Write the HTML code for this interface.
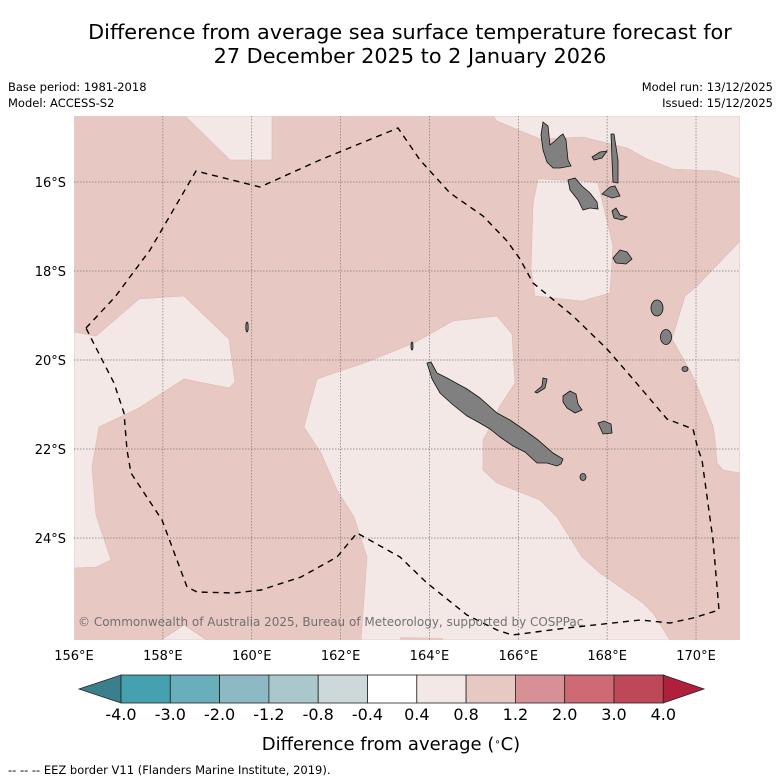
<!DOCTYPE html>
<html><head><meta charset="utf-8"><style>
html,body{margin:0;padding:0;background:#fff;width:781px;height:781px;overflow:hidden}
svg{display:block;font-family:"DejaVu Sans","Liberation Sans",sans-serif}
</style></head><body>
<svg id="chart" width="781" height="781" viewBox="0 0 781 781">
<text x="410" y="39" font-size="20.8" text-anchor="middle">Difference from average sea surface temperature forecast for</text>
<text x="410" y="63" font-size="20.8" text-anchor="middle">27 December 2025 to 2 January 2026</text>
<text x="8" y="91" font-size="11.5">Base period: 1981-2018</text>
<text x="8" y="107" font-size="11.5">Model: ACCESS-S2</text>
<text x="773" y="91" font-size="11.5" text-anchor="end">Model run: 13/12/2025</text>
<text x="773" y="107" font-size="11.5" text-anchor="end">Issued: 15/12/2025</text>
<defs><clipPath id="mapclip"><rect x="74" y="116" width="666" height="524"/></clipPath></defs>
<g clip-path="url(#mapclip)">
<rect x="74" y="116" width="666" height="524" fill="#e8c8c3"/>
<g fill="#f4e8e6" stroke="#dbb9b4" stroke-width="0.6">
<polygon points="185,116 272,116 272,160 230,160"/>
<polygon points="493,116 497,121 540,139 583,137 627,148 647,159 673,169 717,171 740,179 740,116"/>
<polygon points="538,179 583,181 598,183 613,246 610,293 582,301 535,296 531,269 533,204"/>
<polygon points="740,241 697,286 685,296 672,339 693,376 713,426 715,440 717,463 723,470 740,473"/>
<polygon points="74,332 96,336 139,299 184,296 229,339 235,382 229,388 184,379 139,408 99,427 92,467 96,515 111,560 96,567 74,568"/>
<polygon points="414,343 367,362 317,379 304,427 321,453 337,490 354,517 367,557 361,640 670,640 653,613 643,603 600,573 582,557 557,517 540,500 497,483 483,470 483,440 487,433 500,406 515,383 512,334 497,316 453,321"/>
<polygon points="161,640 184,625 207,640"/>
</g>
<polygon fill="#e8c8c3" points="400,637 443,638 443,641 400,641"/>
<g id="grid" stroke="#777" stroke-width="0.7" stroke-dasharray="1.5,1.5"></g>
<g fill="#808080" stroke="#111" stroke-width="0.8">
<polygon points="427,363 431,362 437,373 447,378 467,389 480,398 497,413 510,420 523,429 538,440 553,453 563,459 561,464 557,466 547,463 537,463 525,452 513,446 500,437 490,429 478,422 467,416 452,404 440,393 432,379"/>
<polygon points="543,122 548,126 550,145 556,140 560,136 563,134 566,140 568,160 571,166 560,168 553,168 547,162 543,150 541,135"/>
<polygon points="568,180 575,178 582,186 590,193 597,202 598,209 590,208 583,210 578,200 570,190"/>
<polygon points="611,134 614,134 618,160 618,183 613,182 612,160"/>
<polygon points="592,157 600,152 607,151 602,158 594,160"/>
<polygon points="602,194 610,187 615,186 620,196 612,198"/>
<polygon points="612,211 616,208 620,215 627,217 622,220 614,218"/>
<polygon points="613,258 620,250 627,252 632,259 626,264 616,263"/>
<ellipse cx="657" cy="308" rx="6" ry="8"/>
<ellipse cx="666" cy="337" rx="5.5" ry="7.5"/>
<ellipse cx="685" cy="369" rx="3" ry="2.5"/>
<polygon points="563,396 570,391 576,394 578,404 582,410 575,413 567,408 563,402"/>
<polygon points="598,423 604,421 611,424 612,433 603,434"/>
<ellipse cx="583" cy="477" rx="3" ry="3.5"/>
<polygon points="543,378 547,379 545,388 537,393 535,392 542,386"/>
<ellipse cx="247" cy="327" rx="1.2" ry="5"/>
<ellipse cx="412" cy="346" rx="1" ry="4"/>
</g>
<polyline fill="none" stroke="#000" stroke-width="1.4" stroke-dasharray="6,5"
points="86,328 115,297 150,250 196,171 260,187 320,160 398,128 420,160 450,193 483,216 507,241 520,259 533,283 573,316 607,349 633,379 667,419 693,429 698,449 702,460 713,540 719,610 693,618 670,623 640,620 567,628 512,635 497,630 467,615 427,583 400,557 357,533 337,557 301,577 261,590 234,593 197,592 187,587 162,520 131,473 127,450 124,413 114,383 92,340 86,328"/>
<text x="78" y="626" font-size="12" fill="#666" opacity="0.9">© Commonwealth of Australia 2025, Bureau of Meteorology, supported by COSPPac</text>
</g>
<g id="lonlabels" font-size="13" text-anchor="middle"></g>
<g id="latlabels" font-size="13" text-anchor="end"></g>
<g id="cbar"></g>
<text x="391" y="750" font-size="18" text-anchor="middle">Difference from average (<tspan baseline-shift="super" font-size="10">∘</tspan>C)</text>
<text x="8" y="774" font-size="11.5">--  --  -- EEZ border V11 (Flanders Marine Institute, 2019).</text>
</svg>
<script>
const lonTicks=[156,158,160,162,164,166,168,170];
const latTicks=[16,18,20,22,24];
const cbarBounds=["-4.0","-3.0","-2.0","-1.2","-0.8","-0.4","0.4","0.8","1.2","2.0","3.0","4.0"];
const cbarColors=["#45a0b0","#69aebb","#8cb9c4","#aac8cc","#ccd8d9","#ffffff","#f4e8e6","#e8c8c3","#d79095","#cd6a74","#be4857"];
const lowArrowColor="#3a808c", highArrowColor="#b0203c";
(function(){
const ns="http://www.w3.org/2000/svg";
const lonX=l=>74+(l-156)*44.43;
const latY=l=>182+(l-16)*44.5;
function mk(tag,attrs,parent){const e=document.createElementNS(ns,tag);for(const k in attrs)e.setAttribute(k,attrs[k]);parent.appendChild(e);return e;}
const grid=document.getElementById('grid');
const lonG=document.getElementById('lonlabels');
const latG=document.getElementById('latlabels');
lonTicks.forEach(l=>{
  const x=lonX(l);
  if(l>156){const ln=mk('line',{x1:x,x2:x,y1:116,y2:640},grid);
  
  }
  const t=mk('text',{x:x,y:660},lonG);t.textContent=l+'°E';
  
  
});
latTicks.forEach(l=>{
  const y=latY(l);
  const ln=mk('line',{x1:74,x2:740,y1:y,y2:y},grid);
  
  
  const t=mk('text',{x:66,y:y+5},latG);t.textContent=l+'°S';
  
  
});
const cb=document.getElementById('cbar');
const x0=121,w=49.3,yTop=675,yBot=703,yMid=689;
const la=mk('polygon',{points:`79,${yMid} ${x0},${yTop} ${x0},${yBot}`,fill:lowArrowColor,stroke:'#222','stroke-width':0.8},cb);


cbarColors.forEach((c,i)=>{
  const r=mk('rect',{x:x0+i*w,y:yTop,width:w,height:yBot-yTop,fill:c,stroke:'#222','stroke-width':0.8},cb);
  
  
});
const xe=x0+cbarColors.length*w;
const ra=mk('polygon',{points:`${xe},${yTop} ${xe},${yBot} 704,${yMid}`,fill:highArrowColor,stroke:'#222','stroke-width':0.8},cb);


cbarBounds.forEach((b,i)=>{
  const t=mk('text',{x:x0+i*w,y:720,'font-size':16,'text-anchor':'middle'},cb);
  t.textContent=b;
  
  
});
})();
</script>
</body></html>
